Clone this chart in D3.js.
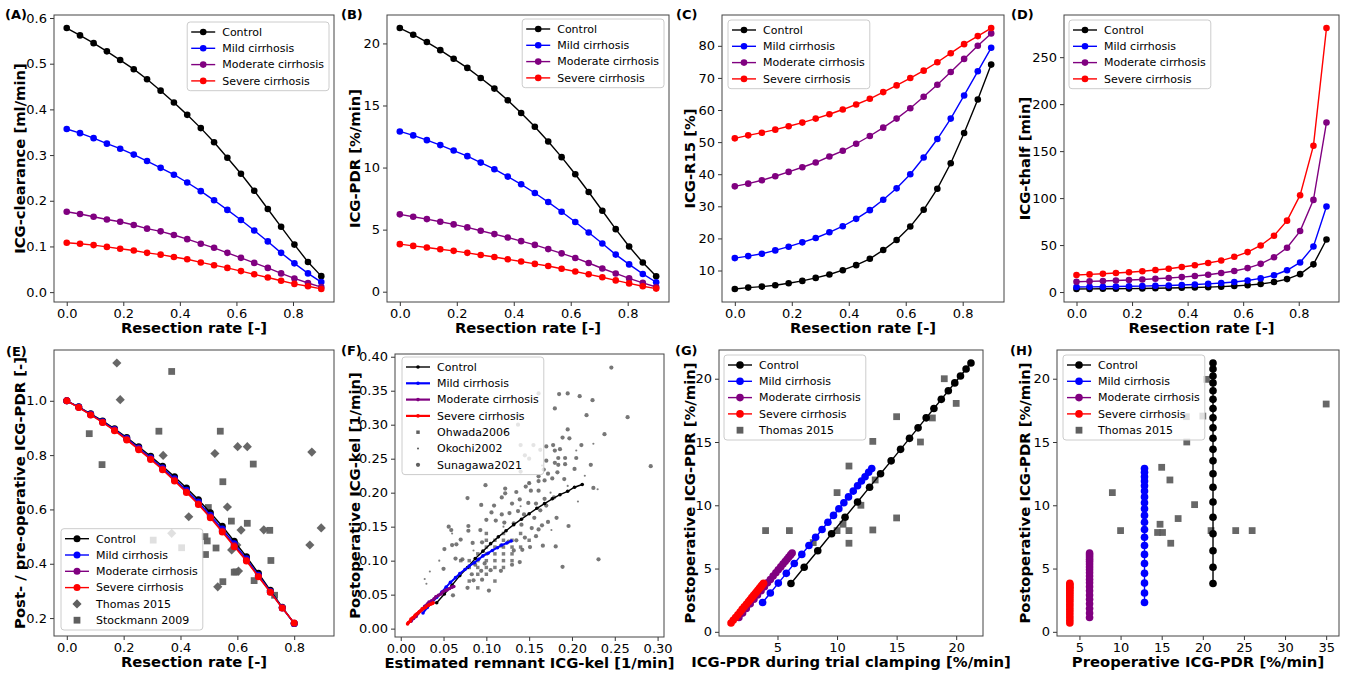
<!DOCTYPE html>
<html>
<head>
<meta charset="utf-8">
<script src="https://cdn.jsdelivr.net/npm/d3@7"></script>
<style>
  body { margin: 0; background: #fff; }
  text { font-family: 'DejaVu Sans', sans-serif; }
</style>
</head>
<body>
<svg id="chart" width="1345" height="677"></svg>
<script>
// ---- data ----
const groupNames = ['Control', 'Mild cirrhosis', 'Moderate cirrhosis', 'Severe cirrhosis']
const groupColors = ['#000000', '#0000ff', '#800080', '#ff0000']

// resection rate for panels A-D
const resection = [0, 0.047, 0.095, 0.142, 0.189, 0.237, 0.284, 0.332, 0.379, 0.426, 0.474, 0.521, 0.568, 0.616, 0.663, 0.711, 0.758, 0.805, 0.853, 0.9]
// resection rate for panel E
const resectionE = [0, 0.042, 0.084, 0.126, 0.168, 0.211, 0.253, 0.295, 0.337, 0.379, 0.421, 0.463, 0.505, 0.547, 0.589, 0.632, 0.674, 0.716, 0.758, 0.8]

const clearanceControl = [0.578, 0.562, 0.545, 0.527, 0.508, 0.488, 0.466, 0.441, 0.415, 0.388, 0.359, 0.328, 0.294, 0.259, 0.222, 0.182, 0.143, 0.104, 0.066, 0.035]
const clearanceMild = [0.357, 0.348, 0.337, 0.325, 0.314, 0.301, 0.287, 0.272, 0.257, 0.240, 0.221, 0.201, 0.180, 0.158, 0.135, 0.111, 0.086, 0.063, 0.041, 0.022]
const clearanceModerate = [0.176, 0.171, 0.165, 0.159, 0.154, 0.147, 0.139, 0.133, 0.125, 0.116, 0.106, 0.097, 0.086, 0.075, 0.064, 0.053, 0.041, 0.030, 0.020, 0.011]
const clearanceSevere = [0.108, 0.106, 0.103, 0.099, 0.095, 0.091, 0.086, 0.082, 0.077, 0.072, 0.065, 0.059, 0.053, 0.046, 0.039, 0.032, 0.025, 0.018, 0.013, 0.007]

const pdrControl = [21.24, 20.70, 20.11, 19.46, 18.76, 18.03, 17.22, 16.36, 15.42, 14.39, 13.29, 12.10, 10.84, 9.46, 8.03, 6.52, 5.04, 3.64, 2.35, 1.24]
const pdrMild = [12.91, 12.59, 12.21, 11.81, 11.37, 10.92, 10.40, 9.87, 9.27, 8.65, 7.95, 7.22, 6.44, 5.61, 4.77, 3.88, 2.99, 2.20, 1.43, 0.76]
const pdrModerate = [6.23, 6.04, 5.85, 5.63, 5.42, 5.18, 4.91, 4.64, 4.37, 4.07, 3.77, 3.43, 3.09, 2.72, 2.31, 1.87, 1.47, 1.07, 0.71, 0.38]
const pdrSevere = [3.83, 3.69, 3.56, 3.42, 3.29, 3.13, 2.96, 2.80, 2.61, 2.43, 2.24, 2.07, 1.85, 1.63, 1.40, 1.16, 0.91, 0.67, 0.44, 0.25]

const r15Control = [4.25, 4.67, 4.98, 5.40, 6.03, 6.76, 7.70, 8.75, 10.10, 11.67, 13.66, 16.37, 19.51, 23.69, 28.91, 35.49, 43.43, 52.84, 63.29, 74.15]
const r15Mild = [13.87, 14.49, 15.22, 16.27, 17.42, 18.78, 20.13, 21.91, 23.79, 26.09, 28.81, 32.05, 35.60, 39.99, 45.21, 50.96, 57.33, 64.54, 72.06, 79.38]
const r15Moderate = [36.22, 37.06, 38.11, 39.36, 40.72, 42.18, 43.64, 45.52, 47.30, 49.49, 51.90, 54.51, 57.33, 60.57, 64.12, 67.88, 71.85, 75.93, 80.00, 83.87]
const r15Severe = [51.17, 52.11, 52.94, 53.88, 54.93, 56.08, 57.33, 58.69, 60.15, 61.72, 63.49, 65.58, 67.67, 69.97, 72.27, 74.88, 77.70, 80.52, 83.03, 85.54]

const thalfControl = [3.26, 3.35, 3.45, 3.56, 3.69, 3.84, 4.02, 4.24, 4.49, 4.82, 5.22, 5.73, 6.39, 7.33, 8.63, 10.63, 13.75, 19.04, 29.49, 55.9]
const thalfMild = [5.37, 5.51, 5.68, 5.87, 6.10, 6.35, 6.66, 7.02, 7.48, 8.01, 8.72, 9.60, 10.76, 12.35, 14.53, 17.86, 23.18, 31.5, 48.5, 91.0]
const thalfModerate = [11.0, 11.4, 11.8, 12.3, 12.8, 13.4, 14.1, 14.9, 15.9, 17.0, 18.4, 20.2, 22.4, 25.5, 30.0, 37.1, 47.1, 64.9, 98.1, 180.5]
const thalfSevere = [18.1, 18.8, 19.5, 20.3, 21.1, 22.1, 23.4, 24.8, 26.6, 28.5, 30.9, 33.5, 37.5, 42.5, 49.6, 59.9, 76.0, 103.1, 155.8, 281.0]

const ratioControl = [1.0, 0.978, 0.952, 0.926, 0.897, 0.865, 0.831, 0.796, 0.759, 0.720, 0.679, 0.636, 0.588, 0.538, 0.483, 0.426, 0.365, 0.302, 0.240, 0.180]
const ratioMild = [1.0, 0.977, 0.950, 0.923, 0.894, 0.861, 0.826, 0.790, 0.753, 0.713, 0.671, 0.627, 0.579, 0.528, 0.474, 0.418, 0.358, 0.298, 0.238, 0.180]
const ratioModerate = [1.0, 0.976, 0.949, 0.921, 0.892, 0.858, 0.823, 0.787, 0.749, 0.708, 0.665, 0.621, 0.573, 0.521, 0.467, 0.413, 0.354, 0.296, 0.237, 0.181]
const ratioSevere = [1.0, 0.975, 0.948, 0.920, 0.890, 0.856, 0.820, 0.784, 0.746, 0.705, 0.662, 0.618, 0.569, 0.517, 0.463, 0.410, 0.352, 0.295, 0.237, 0.182]

const thomasE = [[0.176, 1.139], [0.188, 1.004], [0.339, 0.799], [0.429, 0.573], [0.369, 0.512], [0.521, 0.806], [0.601, 0.831], [0.635, 0.831], [0.565, 0.609], [0.613, 0.524], [0.580, 0.451], [0.598, 0.469], [0.604, 0.373], [0.531, 0.315], [0.693, 0.525], [0.862, 0.811], [0.895, 0.532], [0.855, 0.469]]
const stockmannE = [[0.369, 1.108], [0.079, 0.879], [0.124, 0.765], [0.324, 0.888], [0.540, 0.888], [0.549, 0.702], [0.498, 0.607], [0.486, 0.500], [0.494, 0.484], [0.525, 0.458], [0.488, 0.434], [0.579, 0.557], [0.635, 0.549], [0.656, 0.767], [0.714, 0.523], [0.718, 0.412], [0.549, 0.334], [0.589, 0.369], [0.659, 0.338], [0.731, 0.284], [0.304, 0.487], [0.404, 0.459], [0.595, 0.370]]

// panel F: estimated remnant kel vs postoperative kel
const kelRemnantControl = [0.212, 0.203, 0.195, 0.186, 0.177, 0.168, 0.159, 0.150, 0.141, 0.132, 0.123, 0.114, 0.105, 0.096, 0.087, 0.078, 0.069, 0.060, 0.051, 0.042]
const kelPostControl = [0.212, 0.208, 0.202, 0.197, 0.191, 0.184, 0.177, 0.169, 0.161, 0.153, 0.144, 0.135, 0.125, 0.114, 0.103, 0.090, 0.078, 0.064, 0.051, 0.038]
const kelRemnantMild = [0.129, 0.124, 0.118, 0.113, 0.107, 0.102, 0.096, 0.091, 0.086, 0.080, 0.075, 0.069, 0.064, 0.058, 0.053, 0.048, 0.042, 0.037, 0.031, 0.026]
const kelPostMild = [0.129, 0.126, 0.123, 0.119, 0.115, 0.111, 0.107, 0.102, 0.097, 0.092, 0.087, 0.081, 0.075, 0.068, 0.061, 0.054, 0.046, 0.039, 0.031, 0.023]
const kelRemnantModerate = [0.062, 0.060, 0.057, 0.054, 0.052, 0.049, 0.047, 0.044, 0.041, 0.039, 0.036, 0.033, 0.031, 0.028, 0.026, 0.023, 0.020, 0.018, 0.015, 0.012]
const kelPostModerate = [0.062, 0.061, 0.059, 0.057, 0.056, 0.054, 0.051, 0.049, 0.047, 0.044, 0.041, 0.039, 0.036, 0.033, 0.029, 0.026, 0.022, 0.018, 0.015, 0.011]
const kelRemnantSevere = [0.038, 0.037, 0.035, 0.033, 0.032, 0.030, 0.029, 0.027, 0.025, 0.024, 0.022, 0.021, 0.019, 0.017, 0.016, 0.014, 0.012, 0.011, 0.009, 0.008]
const kelPostSevere = [0.038, 0.037, 0.036, 0.035, 0.034, 0.033, 0.031, 0.030, 0.029, 0.027, 0.025, 0.024, 0.022, 0.020, 0.018, 0.016, 0.014, 0.011, 0.009, 0.007]

const ohwada2006 = [[0.070, 0.100], [0.080, 0.100], [0.090, 0.100], [0.100, 0.100], [0.110, 0.100], [0.120, 0.100], [0.080, 0.090], [0.090, 0.090], [0.100, 0.090], [0.110, 0.090], [0.120, 0.090], [0.090, 0.110], [0.100, 0.110], [0.110, 0.110], [0.120, 0.110], [0.130, 0.110], [0.100, 0.120], [0.110, 0.120], [0.120, 0.120], [0.130, 0.120], [0.090, 0.080], [0.100, 0.080], [0.080, 0.070], [0.110, 0.070], [0.110, 0.130], [0.120, 0.130], [0.130, 0.130], [0.140, 0.140], [0.120, 0.140], [0.100, 0.130], [0.130, 0.100], [0.140, 0.120], [0.150, 0.130], [0.090, 0.060], [0.100, 0.140]]
const okochi2002 = [[0.034, 0.084], [0.030, 0.066], [0.028, 0.073], [0.045, 0.100], [0.060, 0.140], [0.150, 0.215], [0.165, 0.240], [0.205, 0.262], [0.225, 0.272], [0.207, 0.187], [0.176, 0.145], [0.195, 0.210], [0.140, 0.180], [0.120, 0.150], [0.085, 0.115], [0.230, 0.205], [0.215, 0.225], [0.175, 0.200]]
const sunagawa2021 = [[0.246, 0.384], [0.161, 0.346], [0.185, 0.345], [0.195, 0.346], [0.209, 0.342], [0.224, 0.336], [0.137, 0.314], [0.180, 0.324], [0.217, 0.314], [0.265, 0.311], [0.195, 0.293], [0.238, 0.286], [0.189, 0.281], [0.197, 0.280], [0.211, 0.270], [0.170, 0.268], [0.178, 0.270], [0.186, 0.264], [0.180, 0.262], [0.163, 0.263], [0.155, 0.270], [0.205, 0.251], [0.203, 0.235], [0.184, 0.251], [0.192, 0.251], [0.170, 0.247], [0.222, 0.241], [0.292, 0.239], [0.184, 0.241], [0.192, 0.242], [0.180, 0.244], [0.167, 0.234], [0.172, 0.228], [0.183, 0.230], [0.177, 0.221], [0.161, 0.224], [0.168, 0.218], [0.191, 0.220], [0.161, 0.217], [0.150, 0.214], [0.146, 0.209], [0.152, 0.203], [0.161, 0.203], [0.135, 0.201], [0.122, 0.199], [0.122, 0.206], [0.099, 0.211], [0.078, 0.192], [0.225, 0.207], [0.179, 0.193], [0.094, 0.182], [0.109, 0.181], [0.118, 0.193], [0.130, 0.184], [0.139, 0.190], [0.149, 0.185], [0.158, 0.184], [0.168, 0.191], [0.170, 0.181], [0.163, 0.174], [0.156, 0.163], [0.144, 0.168], [0.137, 0.173], [0.127, 0.170], [0.118, 0.168], [0.106, 0.171], [0.100, 0.160], [0.111, 0.159], [0.121, 0.156], [0.132, 0.155], [0.141, 0.153], [0.153, 0.148], [0.165, 0.152], [0.172, 0.157], [0.182, 0.163], [0.196, 0.151], [0.161, 0.146], [0.158, 0.136], [0.166, 0.122], [0.181, 0.121], [0.189, 0.091], [0.231, 0.102], [0.093, 0.145], [0.079, 0.144], [0.059, 0.145], [0.056, 0.150], [0.079, 0.151], [0.070, 0.131], [0.065, 0.124], [0.084, 0.126], [0.095, 0.127], [0.117, 0.122], [0.126, 0.128], [0.135, 0.130], [0.145, 0.134], [0.151, 0.120], [0.142, 0.116], [0.132, 0.115], [0.050, 0.088], [0.061, 0.049], [0.078, 0.060], [0.103, 0.056], [0.051, 0.117], [0.060, 0.123], [0.072, 0.102], [0.064, 0.103], [0.087, 0.094], [0.098, 0.096], [0.130, 0.094], [0.139, 0.098], [0.117, 0.085], [0.105, 0.086], [0.094, 0.085], [0.083, 0.080], [0.095, 0.072], [0.085, 0.071], [0.140, 0.270], [0.145, 0.255], [0.150, 0.250], [0.140, 0.231], [0.137, 0.300]]

// panels G and H: postoperative ICG-PDR, trial clamping and preoperative PDR
const clampControl = [21.24, 20.83, 20.36, 19.88, 19.34, 18.75, 18.13, 17.48, 16.80, 16.08, 15.33, 14.54, 13.65, 12.73, 11.72, 10.67, 9.54, 8.38, 7.24, 6.13]
const postControl = [21.24, 20.77, 20.22, 19.67, 19.05, 18.37, 17.65, 16.91, 16.12, 15.29, 14.42, 13.51, 12.49, 11.43, 10.26, 9.05, 7.75, 6.41, 5.10, 3.82]
const clampMild = [12.91, 12.65, 12.35, 12.05, 11.72, 11.36, 10.96, 10.57, 10.15, 9.70, 9.23, 8.74, 8.20, 7.64, 7.04, 6.41, 5.74, 5.07, 4.40, 3.75]
const postMild = [12.91, 12.61, 12.26, 11.92, 11.54, 11.12, 10.66, 10.20, 9.72, 9.20, 8.66, 8.09, 7.47, 6.82, 6.12, 5.40, 4.62, 3.85, 3.07, 2.32]
const clampModerate = [6.23, 6.10, 5.95, 5.80, 5.64, 5.46, 5.27, 5.06, 4.86, 4.63, 4.40, 4.16, 3.90, 3.62, 3.32, 3.02, 2.71, 2.38, 2.07, 1.76]
const postModerate = [6.23, 6.08, 5.91, 5.74, 5.56, 5.35, 5.13, 4.90, 4.67, 4.41, 4.14, 3.87, 3.57, 3.25, 2.91, 2.57, 2.21, 1.84, 1.48, 1.13]
const clampSevere = [3.83, 3.75, 3.65, 3.56, 3.47, 3.35, 3.23, 3.11, 2.98, 2.84, 2.70, 2.56, 2.39, 2.21, 2.03, 1.86, 1.67, 1.48, 1.28, 1.10]
const postSevere = [3.83, 3.74, 3.63, 3.52, 3.42, 3.28, 3.14, 3.01, 2.86, 2.70, 2.54, 2.38, 2.18, 1.98, 1.77, 1.57, 1.35, 1.13, 0.91, 0.70]
const prePDR = [21.24, 12.91, 6.23, 3.83]

const thomasG = [[4, 8], [6, 8], [8, 7.05], [10, 11], [10, 8], [10.5, 8.5], [11, 13.1], [11, 8], [11, 7], [12, 10], [13, 15.05], [13, 8.05], [13.2, 12], [15, 17], [15, 9], [17, 15], [18, 16.9], [19, 20], [20, 18.05]]
const thomasH = [[9, 11], [10, 8], [15, 13], [14.8, 8.5], [14.5, 7.85], [15.1, 7.85], [16, 12], [16.1, 7], [17, 8.95], [18, 17], [18.05, 15], [19, 10.05], [20, 17.05], [20.45, 19.95], [21, 8], [24, 8], [26, 8], [35, 18]]

// ---- drawing ----
const svg = d3.select('#chart')
svg.append('rect').attr('width', 1345).attr('height', 677).attr('fill', '#fff')

const GRAY = '#5f5f5f'
const TICK_FONT = 13
const LABEL_FONT = 14.8

function panel(cfg) {
  const x = d3.scaleLinear().domain(cfg.xDomain).range([cfg.left, cfg.right])
  const y = d3.scaleLinear().domain(cfg.yDomain).range([cfg.bottom, cfg.top])
  const g = svg.append('g')

  g.append('g')
    .attr('transform', 'translate(0,' + cfg.bottom + ')')
    .call(d3.axisBottom(x).tickValues(cfg.xTicks).tickFormat(d3.format(cfg.xFormat)).tickSize(4).tickPadding(3))
    .attr('font-size', TICK_FONT)
    .attr('font-family', 'DejaVu Sans')
  g.append('g')
    .attr('transform', 'translate(' + cfg.left + ',0)')
    .call(d3.axisLeft(y).tickValues(cfg.yTicks).tickFormat(d3.format(cfg.yFormat)).tickSize(4).tickPadding(3))
    .attr('font-size', TICK_FONT)
    .attr('font-family', 'DejaVu Sans')
  g.selectAll('.domain').remove()
  g.selectAll('.tick line').attr('stroke', '#333')

  g.append('rect')
    .attr('x', cfg.left).attr('y', cfg.top)
    .attr('width', cfg.right - cfg.left).attr('height', cfg.bottom - cfg.top)
    .attr('fill', 'none').attr('stroke', '#444').attr('stroke-width', 1)

  g.append('text')
    .attr('x', (cfg.left + cfg.right) / 2)
    .attr('y', cfg.bottom + 31)
    .attr('text-anchor', 'middle')
    .attr('font-weight', 'bold')
    .attr('font-size', LABEL_FONT)
    .text(cfg.xLabel)

  g.append('text')
    .attr('transform', 'translate(' + cfg.yLabelX + ',' + (cfg.top + cfg.bottom) / 2 + ') rotate(-90)')
    .attr('text-anchor', 'middle')
    .attr('dy', '0.35em')
    .attr('font-weight', 'bold')
    .attr('font-size', LABEL_FONT)
    .text(cfg.yLabel)

  g.append('text')
    .attr('x', cfg.tagX).attr('y', cfg.tagY)
    .attr('font-weight', 'bold')
    .attr('font-size', 13)
    .text(cfg.tag)

  const plot = g.append('g')
  return { g: plot, top: g, x, y, cfg }
}

function series(p, xs, ys, color, r, width) {
  const pts = xs.map((v, i) => [v, ys[i]])
  const line = d3.line().x(d => p.x(d[0])).y(d => p.y(d[1]))
  p.g.append('path')
    .datum(pts)
    .attr('d', line)
    .attr('fill', 'none')
    .attr('stroke', color)
    .attr('stroke-width', width)
  p.g.append('g')
    .selectAll('circle')
    .data(pts)
    .join('circle')
    .attr('cx', d => p.x(d[0]))
    .attr('cy', d => p.y(d[1]))
    .attr('r', r)
    .attr('fill', color)
}

function markerPath(type, size) {
  if (type === 'square' || type === 'diamond') return d3.symbol(d3.symbolSquare, size)()
  if (type === 'plus') return d3.symbol(d3.symbolCross, size)()
  return d3.symbol(d3.symbolCircle, size)()
}

function scatter(p, pts, type, size, opacity) {
  p.g.append('g')
    .selectAll('path')
    .data(pts)
    .join('path')
    .attr('transform', d => 'translate(' + p.x(d[0]) + ',' + p.y(d[1]) + ')' + (type === 'diamond' ? ' rotate(45)' : ''))
    .attr('d', markerPath(type, size))
    .attr('fill', GRAY)
    .attr('opacity', opacity)
}

// items: {label, color, line, marker, size, r, width}
function legend(p, items, pos) {
  const rowH = 16.3
  const lg = p.top.append('g')
  const box = lg.append('rect')
  let maxW = 0
  items.forEach((it, i) => {
    const cy = 10 + i * rowH
    if (it.line) {
      lg.append('line')
        .attr('x1', 4).attr('x2', 28).attr('y1', cy).attr('y2', cy)
        .attr('stroke', it.color).attr('stroke-width', it.width || 1.5)
    }
    if (it.marker === 'circle') {
      lg.append('circle').attr('cx', 16).attr('cy', cy)
        .attr('r', it.r || Math.sqrt(it.size / Math.PI))
        .attr('fill', it.color)
    } else if (it.marker) {
      lg.append('path')
        .attr('transform', 'translate(16,' + cy + ')' + (it.marker === 'diamond' ? ' rotate(45)' : ''))
        .attr('d', markerPath(it.marker, it.size))
        .attr('fill', it.color)
    }
    const t = lg.append('text')
      .attr('x', 35).attr('y', cy).attr('dy', '0.35em')
      .attr('font-size', 11)
      .text(it.label)
    maxW = Math.max(maxW, t.node().getComputedTextLength())
  })
  const w = 35 + maxW + 5
  const h = items.length * rowH + 3.5
  box.attr('width', w).attr('height', h).attr('rx', 3)
    .attr('fill', '#fff').attr('fill-opacity', 0.8)
    .attr('stroke', '#cccccc').attr('stroke-width', 1)
  let lx = pos.left
  let ly = pos.top
  if (pos.right !== undefined) lx = pos.right - w
  if (pos.bottom !== undefined) ly = pos.bottom - h
  lg.attr('transform', 'translate(' + lx + ',' + ly + ')')
}

function groupItems(r, width) {
  return groupNames.map((n, i) => ({ label: n, color: groupColors[i], line: true, marker: 'circle', r: r, width: width }))
}

const resectionTicks = [0, 0.2, 0.4, 0.6, 0.8]

// (A) clearance
const pA = panel({
  tag: '(A)', tagX: 5, tagY: 19,
  left: 54, right: 334, top: 15, bottom: 302,
  xDomain: [-0.045, 0.945], yDomain: [-0.0216, 0.6066],
  xTicks: resectionTicks, yTicks: [0, 0.1, 0.2, 0.3, 0.4, 0.5, 0.6],
  xFormat: '.1f', yFormat: '.1f',
  xLabel: 'Resection rate [-]', yLabel: 'ICG-clearance [ml/min]', yLabelX: 20
})
;[clearanceControl, clearanceMild, clearanceModerate, clearanceSevere].forEach((ys, i) => series(pA, resection, ys, groupColors[i], 3.3, 1.4))
legend(pA, groupItems(3.3, 1.4), { right: 329, top: 22 })

// (B) PDR
const pB = panel({
  tag: '(B)', tagX: 341, tagY: 19,
  left: 387, right: 669, top: 15, bottom: 302,
  xDomain: [-0.045, 0.945], yDomain: [-0.83, 22.29],
  xTicks: resectionTicks, yTicks: [0, 5, 10, 15, 20],
  xFormat: '.1f', yFormat: 'd',
  xLabel: 'Resection rate [-]', yLabel: 'ICG-PDR [%/min]', yLabelX: 355
})
;[pdrControl, pdrMild, pdrModerate, pdrSevere].forEach((ys, i) => series(pB, resection, ys, groupColors[i], 3.3, 1.4))
legend(pB, groupItems(3.3, 1.4), { right: 664, top: 19 })

// (C) R15
const pC = panel({
  tag: '(C)', tagX: 676, tagY: 19,
  left: 722, right: 1004, top: 15, bottom: 302,
  xDomain: [-0.045, 0.945], yDomain: [0.19, 89.6],
  xTicks: resectionTicks, yTicks: [10, 20, 30, 40, 50, 60, 70, 80],
  xFormat: '.1f', yFormat: 'd',
  xLabel: 'Resection rate [-]', yLabel: 'ICG-R15 [%]', yLabelX: 690
})
;[r15Control, r15Mild, r15Moderate, r15Severe].forEach((ys, i) => series(pC, resection, ys, groupColors[i], 3.3, 1.4))
legend(pC, groupItems(3.3, 1.4), { left: 728, top: 20 })

// (D) thalf
const pD = panel({
  tag: '(D)', tagX: 1011, tagY: 19,
  left: 1064, right: 1339, top: 15, bottom: 302,
  xDomain: [-0.045, 0.945], yDomain: [-10.6, 294.9],
  xTicks: resectionTicks, yTicks: [0, 50, 100, 150, 200, 250],
  xFormat: '.1f', yFormat: 'd',
  xLabel: 'Resection rate [-]', yLabel: 'ICG-thalf [min]', yLabelX: 1025
})
;[thalfControl, thalfMild, thalfModerate, thalfSevere].forEach((ys, i) => series(pD, resection, ys, groupColors[i], 3.3, 1.4))
legend(pD, groupItems(3.3, 1.4), { left: 1069, top: 20 })

// (E) post/pre ratio
const pE = panel({
  tag: '(E)', tagX: 6, tagY: 356,
  left: 54, right: 334, top: 350, bottom: 636,
  xDomain: [-0.045, 0.94], yDomain: [0.134, 1.187],
  xTicks: resectionTicks, yTicks: [0.2, 0.4, 0.6, 0.8, 1.0],
  xFormat: '.1f', yFormat: '.1f',
  xLabel: 'Resection rate [-]', yLabel: 'Post- / pre-operative ICG-PDR [-]', yLabelX: 20
})
scatter(pE, thomasE, 'diamond', 42, 0.95)
scatter(pE, stockmannE, 'square', 46, 0.95)
;[ratioControl, ratioMild, ratioModerate, ratioSevere].forEach((ys, i) => series(pE, resectionE, ys, groupColors[i], 3.5, 1.4))
legend(pE, groupItems(3.5, 1.4).concat([
  { label: 'Thomas 2015', color: GRAY, marker: 'diamond', size: 42 },
  { label: 'Stockmann 2009', color: GRAY, marker: 'square', size: 46 }
]), { left: 61, bottom: 630 })

// (F) kel
const pF = panel({
  tag: '(F)', tagX: 341, tagY: 355,
  left: 395, right: 664, top: 354, bottom: 637,
  xDomain: [-0.0067, 0.3075], yDomain: [-0.0123, 0.404],
  xTicks: [0, 0.05, 0.1, 0.15, 0.2, 0.25, 0.3], yTicks: [0, 0.05, 0.1, 0.15, 0.2, 0.25, 0.3, 0.35, 0.4],
  xFormat: '.2f', yFormat: '.2f',
  xLabel: 'Estimated remnant ICG-kel [1/min]', yLabel: 'Postoperative ICG-kel [1/min]', yLabelX: 355
})
scatter(pF, ohwada2006, 'square', 12, 0.8)
scatter(pF, okochi2002, 'circle', 3.5, 0.8)
scatter(pF, sunagawa2021, 'circle', 14, 0.85)
series(pF, kelRemnantControl, kelPostControl, groupColors[0], 1.8, 1.4)
series(pF, kelRemnantMild, kelPostMild, groupColors[1], 1.8, 2)
series(pF, kelRemnantModerate, kelPostModerate, groupColors[2], 1.8, 2.5)
series(pF, kelRemnantSevere, kelPostSevere, groupColors[3], 1.8, 2.5)
legend(pF, groupNames.map((n, i) => ({ label: n, color: groupColors[i], line: true, marker: 'circle', r: 1.8, width: i === 0 ? 1.4 : 2.2 })).concat([
  { label: 'Ohwada2006', color: GRAY, marker: 'square', size: 12 },
  { label: 'Okochi2002', color: GRAY, marker: 'circle', size: 3.5 },
  { label: 'Sunagawa2021', color: GRAY, marker: 'circle', size: 14 }
]), { left: 402, top: 357 })

// (G) trial clamping
const pG = panel({
  tag: '(G)', tagX: 675, tagY: 355,
  left: 719, right: 983, top: 350, bottom: 636,
  xDomain: [0.09, 22.25], yDomain: [-0.33, 22.27],
  xTicks: [5, 10, 15, 20], yTicks: [0, 5, 10, 15, 20],
  xFormat: 'd', yFormat: 'd',
  xLabel: 'ICG-PDR during trial clamping [%/min]', yLabel: 'Postoperative ICG-PDR [%/min]', yLabelX: 690
})
scatter(pG, thomasG, 'square', 46, 0.95)
series(pG, clampControl, postControl, groupColors[0], 3.8, 1.4)
series(pG, clampMild, postMild, groupColors[1], 3.8, 1.4)
series(pG, clampModerate, postModerate, groupColors[2], 3.8, 1.4)
series(pG, clampSevere, postSevere, groupColors[3], 3.8, 1.4)
legend(pG, groupItems(3.8, 1.4).concat([{ label: 'Thomas 2015', color: GRAY, marker: 'square', size: 46 }]), { left: 724, top: 355 })

// (H) preoperative PDR
const pH = panel({
  tag: '(H)', tagX: 1010, tagY: 355,
  left: 1057, right: 1339, top: 350, bottom: 636,
  xDomain: [2.27, 36.56], yDomain: [-0.33, 22.27],
  xTicks: [5, 10, 15, 20, 25, 30, 35], yTicks: [0, 5, 10, 15, 20],
  xFormat: 'd', yFormat: 'd',
  xLabel: 'Preoperative ICG-PDR [%/min]', yLabel: 'Postoperative ICG-PDR [%/min]', yLabelX: 1025
})
scatter(pH, thomasH, 'square', 46, 0.95)
;[postControl, postMild, postModerate, postSevere].forEach((ys, i) => series(pH, ys.map(() => prePDR[i]), ys, groupColors[i], 3.8, 1.4))
legend(pH, groupItems(3.8, 1.4).concat([{ label: 'Thomas 2015', color: GRAY, marker: 'square', size: 46 }]), { left: 1063, top: 355 })
</script>
</body>
</html>
